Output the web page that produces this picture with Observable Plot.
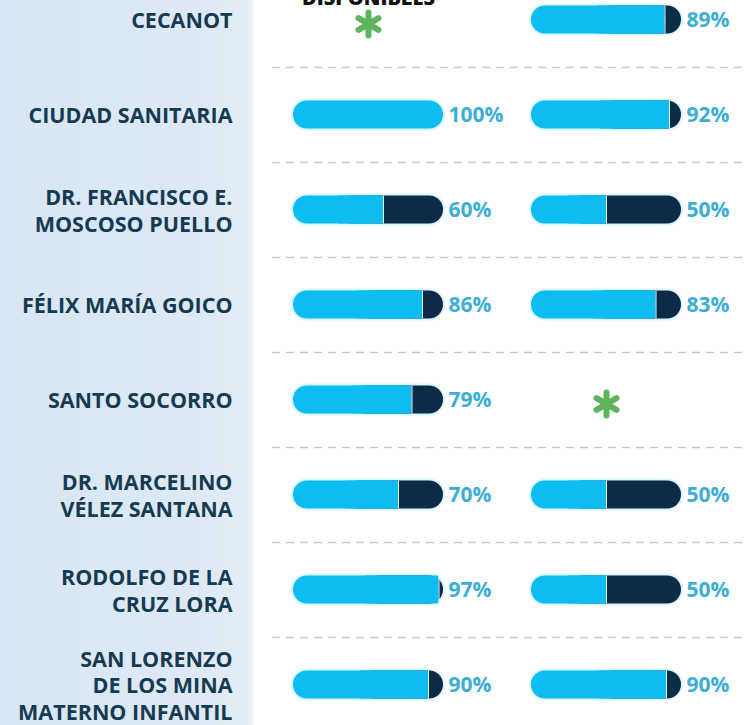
<!DOCTYPE html>
<html>
<head>
<meta charset="utf-8">
<script src="https://cdn.jsdelivr.net/npm/d3@7"></script>
<script src="https://cdn.jsdelivr.net/npm/@observablehq/plot@0.6"></script>
<style>
  html, body { margin: 0; padding: 0; }
  body {
    width: 744px; height: 725px; overflow: hidden;
    background: linear-gradient(to right, #d8e7f5 0px, #dde9f5 200px, #e3edf7 248px, #eef3f8 252px, #ffffff 256px);
    font-family: "Open Sans", sans-serif;
  }
  #chart svg { display: block; background: transparent; }
</style>
</head>
<body>
<div id="chart"></div>
<script>
// ---- data ----
const hospitals = [
  "CECANOT",
  "CIUDAD SANITARIA",
  "DR. FRANCISCO E.\nMOSCOSO PUELLO",
  "FÉLIX MARÍA GOICO",
  "SANTO SOCORRO",
  "DR. MARCELINO\nVÉLEZ SANTANA",
  "RODOLFO DE LA\nCRUZ LORA",
  "SAN LORENZO\nDE LOS MINA\nMATERNO INFANTIL"
];
const columns = ["col1", "col2"];
const columnTitles = ["DISPONIBLES", ""];
const valuesCol1 = [null, 100, 60, 86, 79, 70, 97, 90];
const valuesCol2 = [89, 92, 50, 83, null, 50, 50, 90];

// ---- table ----
const rows = [];
hospitals.forEach((h, i) => {
  rows.push({hospital: h, col: columns[0], value: valuesCol1[i]});
  rows.push({hospital: h, col: columns[1], value: valuesCol2[i]});
});
const withValue = rows.filter(d => d.value != null);
const missing = rows.filter(d => d.value == null);
const partial = withValue.filter(d => d.value < 100);

const LIGHT = "#0dbcf1";
const DARK = "#0c2b46";
const LABEL = "#3cadd4";
const GREEN = "#5db559";
const inset = 33.5;

const chart = Plot.plot({
  width: 744,
  height: 725,
  marginLeft: 293,
  marginRight: 63,
  marginTop: 0,
  marginBottom: 0,
  fx: {domain: columns, paddingInner: 0.37, paddingOuter: 0, axis: null},
  x: {domain: [0, 100], axis: null},
  y: {domain: hospitals, range: [-28.5, 731.5], padding: 0, axis: null},
  marks: [
    // dashed separators between rows
    Plot.ruleY(hospitals.slice(0, -1), {
      y: d => d, fx: () => columns[0], dy: 47.5,
      insetLeft: -21, insetRight: -301,
      stroke: "#c5cacf", strokeWidth: 1.5, strokeDasharray: "8,6"
    }),
    // soft glow
    Plot.barX(withValue, {
      x1: 0, x2: 100, y: "hospital", fx: "col",
      insetTop: inset - 2, insetBottom: inset - 2, insetLeft: -2, insetRight: -2,
      rx: 16, fill: "#bfeefc", fillOpacity: 0.6
    }),
    // dark remainder
    Plot.barX(partial, {
      x1: d => d.value / 2, x2: 100, y: "hospital", fx: "col",
      insetTop: inset, insetBottom: inset, rx: 14, fill: DARK
    }),
    // light share (rounded start)
    Plot.barX(withValue, {
      x1: 0, x2: "value", y: "hospital", fx: "col",
      insetTop: inset, insetBottom: inset, rx: 14, fill: LIGHT
    }),
    // light share (square end)
    Plot.barX(partial, {
      x1: d => d.value / 2, x2: "value", y: "hospital", fx: "col",
      insetTop: inset, insetBottom: inset, fill: LIGHT
    }),
    // thin separator
    Plot.tickX(partial, {
      x: "value", y: "hospital", fx: "col",
      insetTop: inset, insetBottom: inset, stroke: "#e8f8ff", strokeWidth: 1
    }),
    // percent labels
    Plot.text(withValue, {
      x: 100, y: "hospital", fx: "col", text: d => d.value + "%",
      dx: 5, textAnchor: "start", fill: LABEL,
      fontSize: 21, fontWeight: 700, fontFamily: "Open Sans", letterSpacing: -0.3
    }),
    // missing marker
    Plot.dot(missing, {
      x: 50, y: "hospital", fx: "col", symbol: "asterisk", dy: 4,
      r: 11, stroke: GREEN, strokeWidth: 6, strokeLinecap: "round"
    }),
    // column title (cropped at the top)
    Plot.text(columns.map((c, i) => ({col: c, title: columnTitles[i]})), {
      fx: "col", x: 50, frameAnchor: "top", text: "title",
      lineAnchor: "bottom", dy: 4, fill: "#111",
      fontSize: 20, fontWeight: 800, fontFamily: "Open Sans"
    }),
    // hospital labels
    Plot.axisY({
      tickSize: 0, tickPadding: 61, textAnchor: "end",
      fontSize: 21.5, fontWeight: 700, fontFamily: "Open Sans",
      letterSpacing: -0.6,
      fill: "#163a51", lineHeight: 1.22, label: null
    })
  ]
});
document.getElementById("chart").appendChild(chart);
</script>
</body>
</html>
